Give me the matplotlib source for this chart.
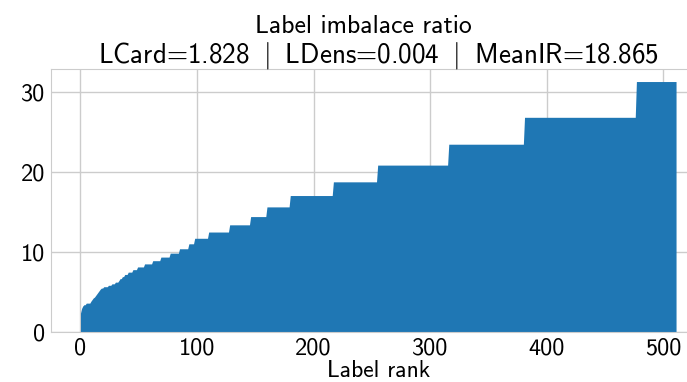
import matplotlib as mpl

mpl.use("Agg")
import matplotlib.pyplot as plt
import numpy as np
from matplotlib.transforms import offset_copy

# imbalance ratio per label, sorted ascending, stored as (level, number of labels) runs
IR_LEVELS = [
    2.4, 3.0, 3.3, 3.45, 3.65, 3.9, 4.1, 4.3, 4.4, 4.6, 4.8, 5.0, 5.2, 5.4,
    5.53, 5.7, 5.875, 6.06, 6.27, 6.48, 6.71, 6.96, 7.23, 7.52, 7.83, 8.17,
    8.55, 8.95, 9.4, 9.89, 10.44, 11.06, 11.75, 12.53, 13.43, 14.46, 15.67,
    17.09, 18.8, 20.89, 23.5, 26.86, 31.33,
]
RUN_LENGTHS = [
    1, 1, 1, 2, 4, 1, 1, 1, 1, 1, 1, 1, 1, 1,
    2, 4, 3, 3, 3, 1, 2, 2, 3, 4, 4, 6,
    7, 7, 8, 8, 8, 5, 12, 18, 18, 14, 20,
    37, 38, 61, 65, 96, 35,
]
LCARD, LDENS, MEAN_IR = 1.828, 0.004, 18.865

INK, HAIR, BLUE = "#000000", "#cccccc", "#1f77b4"

plt.rcParams["font.family"] = "cmss10"
plt.rcParams["mathtext.fontset"] = "cm"
plt.rcParams["axes.unicode_minus"] = False

ir = np.repeat(IR_LEVELS, RUN_LENGTHS)
rank = np.arange(len(ir))

fig = plt.figure(figsize=(6.87, 3.82), dpi=100, facecolor="white")
ax = fig.add_axes([0.0738, 0.130, 0.9536, 0.6894])
ax.fill_between(rank, ir, color=BLUE, lw=0)
ax.margins(x=0.05)
ax.set_ylim(0, ir.max() * 1.05)
ax.set_yticks([0, 10, 20, 30])
ax.set_xticks([0, 100, 200, 300, 400, 500])

ax.grid(True, color=HAIR, lw=1)
ax.set_axisbelow(True)
for sp in ax.spines.values():
    sp.set_color(HAIR)
ax.tick_params(length=0, pad=4, labelsize=17.5, colors=INK)

ax.set_xlabel("Label rank", fontsize=17, labelpad=0)

# two-line heading: name of the plot, then the dataset statistics
sep = r" $\:|\:$ "
ax.text(0.4767, 1.0, "Label imbalace ratio", ha="center", va="baseline", fontsize=18.5,
        transform=offset_copy(ax.transAxes, fig=fig, y=36, units="dots"))
ax.text(0.5, 1.0,
        f"LCard={LCARD:.3f}{sep}LDens={LDENS:.3f}{sep}MeanIR={MEAN_IR:.3f}",
        ha="center", va="baseline", fontsize=19.5,
        transform=offset_copy(ax.transAxes, fig=fig, y=6, units="dots"))

fig.savefig("out.png", dpi=100, facecolor="white")
